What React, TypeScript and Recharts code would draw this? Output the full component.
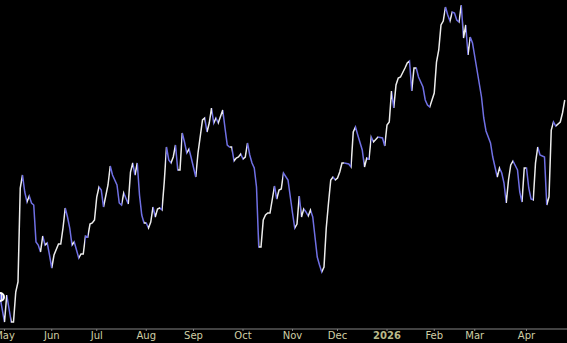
import React from 'react';
import { LineChart, Line, XAxis, YAxis } from 'recharts';

// trading-day index of each close that is shown (turning points of the trace)
const tradingDay = [
    0, 2, 3, 5, 6, 7, 8, 9, 10, 11,
    12, 13, 14, 15, 16, 17, 18, 19, 20, 21,
    22, 23, 24, 26, 27, 28, 29, 30, 31, 32,
    33, 35, 36, 37, 38, 39, 40, 41, 42, 43,
    44, 45, 46, 48, 49, 50, 52, 53, 54, 55,
    57, 58, 59, 60, 61, 62, 63, 64, 65, 66,
    67, 68, 69, 70, 71, 72, 73, 74, 75, 76,
    77, 78, 79, 80, 81, 82, 83, 84, 85, 87,
    88, 90, 91, 92, 93, 94, 95, 96, 97, 99,
    100, 101, 102, 103, 104, 105, 106, 107, 108, 109,
    110, 111, 112, 113, 114, 115, 116, 117, 118, 119,
    120, 122, 123, 124, 125, 126, 128, 130, 131, 132,
    133, 134, 135, 136, 137, 138, 139, 140, 141, 142,
    143, 144, 145, 146, 147, 148, 149, 150, 151, 152,
    153, 155, 156, 157, 158, 159, 161, 162, 163, 164,
    165, 166, 168, 170, 171, 172, 173, 174, 175, 176,
    177, 178, 180, 181, 182, 183, 184, 185, 186, 188,
    189, 190, 191, 193, 194, 195, 196, 197, 198, 199,
    200, 201, 202, 203, 204, 205, 206, 207, 208, 209,
    210, 212, 214, 215, 216, 218, 219, 221, 222, 223,
    224, 225, 226, 227, 228, 230, 231, 232, 233, 234,
    235, 236, 237, 238, 239, 240, 242, 243, 244, 245,
    246, 247, 249, 250, 251,
];

const close = [
    30.3, 27.8, 30.5, 27.8, 27.8, 30.8, 31.8, 41.2, 42.5, 40.8,
    39.8, 40.4, 39.7, 39.5, 35.8, 35.5, 34.8, 36.4, 35.5, 35.7,
    34.5, 33.2, 34.5, 35.6, 35.6, 37.2, 39.2, 38.3, 37.2, 35.5,
    35.8, 34.2, 34.6, 34.6, 36.4, 36.3, 37.6, 37.7, 38.0, 40.3,
    41.3, 41.0, 39.3, 41.5, 43.4, 42.5, 41.5, 39.7, 39.5, 40.7,
    39.6, 42.8, 43.7, 42.5, 43.7, 40.5, 38.5, 37.7, 37.7, 37.2,
    37.8, 39.3, 38.3, 39.1, 39.2, 39.0, 41.8, 45.3, 44.0, 43.7,
    44.3, 45.5, 43.0, 43.0, 46.7, 45.8, 44.7, 45.1, 44.2, 42.3,
    44.7, 48.0, 48.2, 46.8, 47.7, 49.2, 47.7, 48.2, 47.7, 49.0,
    47.2, 45.5, 45.3, 45.3, 43.9, 44.2, 44.3, 44.6, 44.1, 44.3,
    45.7, 44.5, 43.7, 43.2, 41.3, 35.3, 35.3, 38.0, 38.5, 38.7,
    38.7, 41.4, 40.1, 41.0, 41.1, 42.7, 42.0, 38.7, 37.2, 37.6,
    40.4, 38.3, 39.1, 38.8, 38.4, 39.0, 38.3, 36.3, 34.3, 33.5,
    32.8, 33.3, 37.2, 39.7, 42.0, 42.3, 42.0, 42.2, 42.8, 43.7,
    43.7, 43.6, 43.3, 46.8, 47.3, 46.5, 45.0, 43.3, 44.2, 44.1,
    46.3, 45.8, 46.3, 46.2, 45.4, 47.5, 47.8, 50.9, 49.2, 51.5,
    52.2, 52.3, 53.2, 53.7, 53.9, 50.9, 53.2, 53.2, 52.3, 51.3,
    50.0, 49.5, 49.3, 50.7, 53.8, 55.0, 57.5, 57.9, 59.3, 58.5,
    57.9, 58.8, 58.7, 58.0, 57.8, 59.5, 56.2, 57.5, 54.5, 56.3,
    55.7, 53.0, 50.3, 48.2, 46.9, 45.7, 44.3, 42.3, 43.2, 42.7,
    41.7, 39.7, 42.0, 43.5, 43.9, 43.0, 40.8, 39.8, 43.2, 43.2,
    41.2, 40.1, 40.0, 43.7, 45.3, 44.5, 44.3, 39.5, 40.3, 47.0,
    47.8, 47.4, 47.8, 48.7, 50.0,
];

const monthStart = [2, 23, 43, 65, 86, 108, 130, 150, 172, 193, 211, 234];
const monthLabels = ['May', 'Jun', 'Jul', 'Aug', 'Sep', 'Oct', 'Nov', 'Dec', '2026', 'Feb', 'Mar', 'Apr'];

const UP_COLOR = '#ececec';
const DOWN_COLOR = '#7070e4';

const data = tradingDay.map((day, i) => ({ day, close: close[i] }));

// hard-stop gradient: each segment white when rising, blue when falling
const first = tradingDay[0];
const span = tradingDay[tradingDay.length - 1] - first;
const stops: { offset: number; color: string }[] = [];
for (let i = 0; i < close.length - 1; i++) {
    const color = close[i + 1] >= close[i] ? UP_COLOR : DOWN_COLOR;
    stops.push({ offset: (tradingDay[i] - first) / span, color });
    stops.push({ offset: (tradingDay[i + 1] - first) / span, color });
}

const MonthTick = (props: any) => {
    const { x, y, payload } = props;
    const label = monthLabels[monthStart.indexOf(payload.value)];
    const isYear = label === '2026';
    return (
        <text
            x={x}
            y={y}
            dy={6}
            textAnchor="middle"
            fontSize={10}
            fontFamily="DejaVu Sans, sans-serif"
            fontWeight={isYear ? 'bold' : 'normal'}
            fill={isYear ? '#b9b98a' : '#cfcfa6'}
        >
            {label}
        </text>
    );
};

export default function App() {
    return (
        <div style={{ position: 'fixed', left: 0, top: 0, width: 567, height: 343, background: '#000' }}>
            <style>{'body{margin:0;background:#000;}'}</style>
            <LineChart width={567} height={343} data={data} margin={{ top: 0, right: 0, bottom: 0, left: 0 }}>
                <defs>
                    <linearGradient id="upDown" x1="0" y1="0" x2="1" y2="0">
                        {stops.map((s, i) => (
                            <stop key={i} offset={s.offset} stopColor={s.color} />
                        ))}
                    </linearGradient>
                </defs>
                <XAxis
                    dataKey="day"
                    type="number"
                    domain={[0, 252]}
                    ticks={monthStart}
                    interval={0}
                    height={14}
                    tickSize={2}
                    tickMargin={2}
                    stroke="#858585"
                    tick={<MonthTick />}
                />
                <YAxis hide domain={[27.1, 60]} />
                <Line
                    type="linear"
                    dataKey="close"
                    stroke="url(#upDown)"
                    strokeWidth={1.5}
                    dot={false}
                    isAnimationActive={false}
                />
            </LineChart>
        </div>
    );
}
